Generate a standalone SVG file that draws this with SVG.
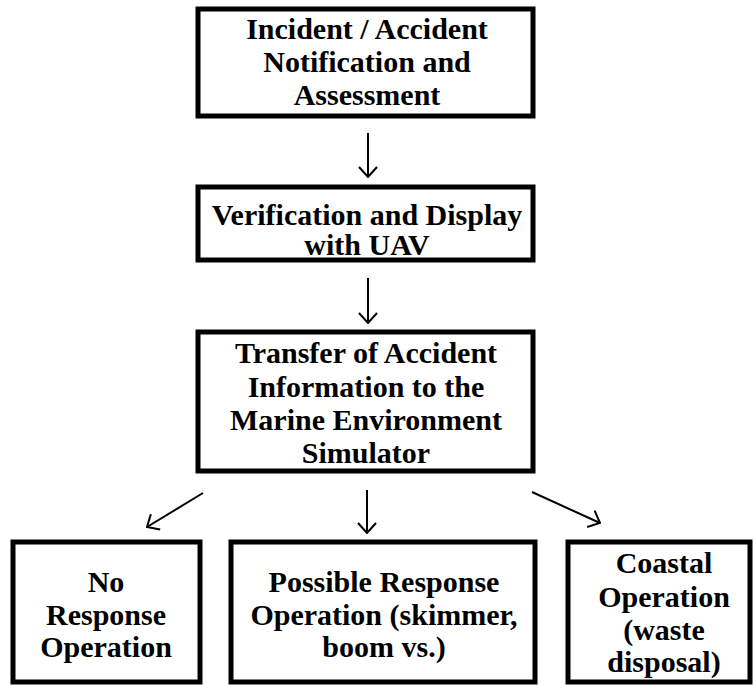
<svg xmlns="http://www.w3.org/2000/svg" width="755" height="685" viewBox="0 0 755 685">
<style>
.box{fill:#fff;stroke:#000;stroke-width:5}
.t{font-family:'Liberation Serif','Times New Roman',Times,serif;font-weight:bold;font-size:30px;fill:#000;text-anchor:middle}
.c{stroke:#000;stroke-width:2;fill:none}
</style>
<defs>
<marker id="ah" viewBox="0 0 12 20" refX="11" refY="10" markerWidth="12" markerHeight="20" markerUnits="userSpaceOnUse" orient="auto">
<path d="M1,1 L11,10 L1,19" fill="none" stroke="#000" stroke-width="2"/>
</marker>
</defs>
<rect width="755" height="685" fill="#fff"/>
<g id="connectors">
<line class="c" x1="368" y1="133" x2="368" y2="177" marker-end="url(#ah)"/>
<line class="c" x1="368" y1="278" x2="368" y2="323" marker-end="url(#ah)"/>
<line class="c" x1="367" y1="490" x2="367" y2="533" marker-end="url(#ah)"/>
<line class="c" x1="203" y1="493" x2="147" y2="527" marker-end="url(#ah)"/>
<line class="c" x1="532" y1="492" x2="600" y2="523" marker-end="url(#ah)"/>
</g>
<g id="n1">
<rect class="box" x="198" y="9" width="335" height="107"/>
<text class="t" x="367" y="39">Incident / Accident</text>
<text class="t" x="367" y="72">Notification and</text>
<text class="t" x="367" y="105">Assessment</text>
</g>
<g id="n2">
<rect class="box" x="198" y="187" width="335" height="73"/>
<text class="t" x="367" y="225">Verification and Display</text>
<text class="t" x="367" y="255">with UAV</text>
</g>
<g id="n3">
<rect class="box" x="198" y="332" width="335" height="139"/>
<text class="t" x="366" y="363">Transfer of Accident</text>
<text class="t" x="366" y="397">Information to the</text>
<text class="t" x="366" y="430">Marine Environment</text>
<text class="t" x="366" y="463">Simulator</text>
</g>
<g id="n4">
<rect class="box" x="13" y="542" width="187" height="140"/>
<text class="t" x="106" y="592">No</text>
<text class="t" x="106" y="625">Response</text>
<text class="t" x="106" y="657">Operation</text>
</g>
<g id="n5">
<rect class="box" x="231" y="542" width="304" height="140"/>
<text class="t" x="384" y="592">Possible Response</text>
<text class="t" x="384" y="625">Operation (skimmer,</text>
<text class="t" x="384" y="657">boom vs.)</text>
</g>
<g id="n6">
<rect class="box" x="568" y="542" width="182" height="140"/>
<text class="t" x="664" y="573">Coastal</text>
<text class="t" x="664" y="607">Operation</text>
<text class="t" x="664" y="640">(waste</text>
<text class="t" x="664" y="672">disposal)</text>
</g>
</svg>
